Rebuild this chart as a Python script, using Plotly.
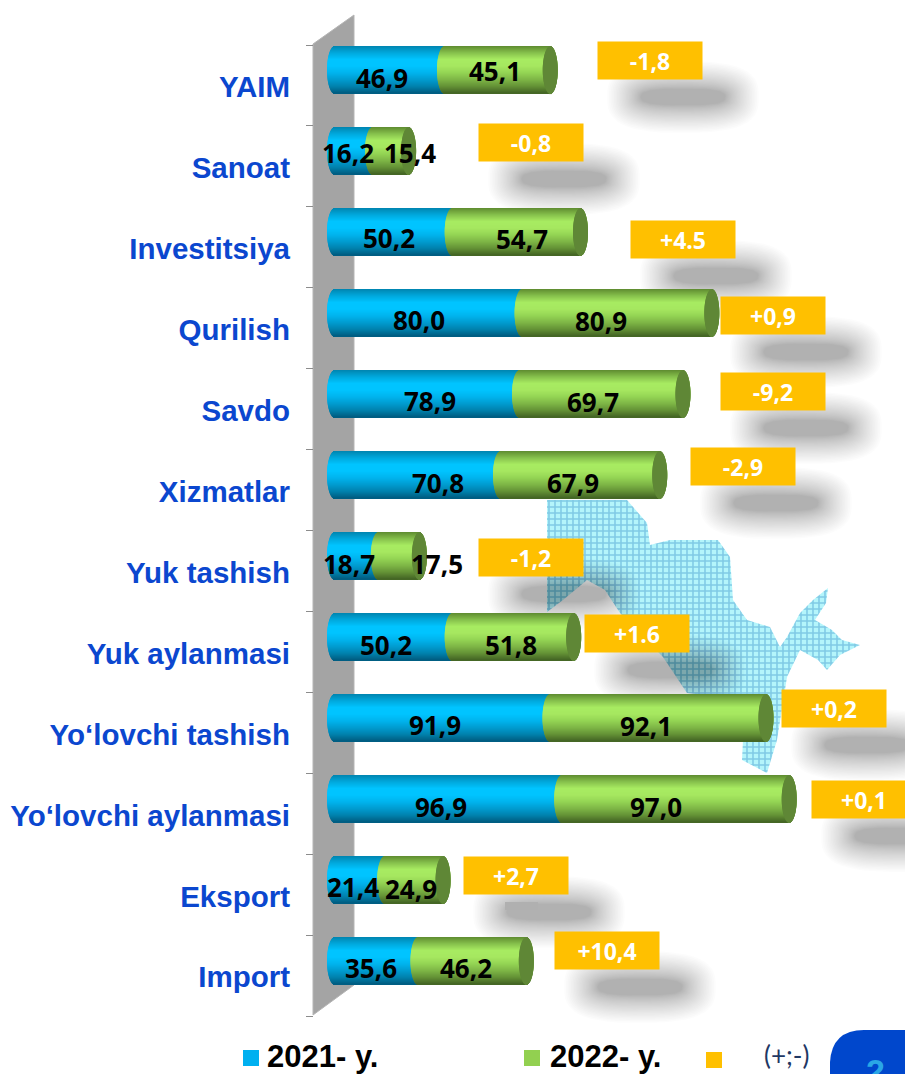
import numpy as np
import plotly.graph_objects as go

categories = ["YAIM", "Sanoat", "Investitsiya", "Qurilish", "Savdo", "Xizmatlar", "Yuk tashish",
              "Yuk aylanmasi", "Yo‘lovchi tashish", "Yo‘lovchi aylanmasi", "Eksport", "Import"]
values_2021 = [46.9, 16.2, 50.2, 80.0, 78.9, 70.8, 18.7, 50.2, 91.9, 96.9, 21.4, 35.6]
values_2022 = [45.1, 15.4, 54.7, 80.9, 69.7, 67.9, 17.5, 51.8, 92.1, 97.0, 24.9, 46.2]
change_labels = ["-1,8", "-0,8", "+4.5", "+0,9", "-9,2", "-2,9", "-1,2", "+1.6", "+0,2", "+0,1", "+2,7", "+10,4"]

# Label placement (pixels), kept apart from the data
label_2021_xy = [(382, 78), (348, 153), (389, 238), (419, 320), (430, 401), (438, 483),
                 (349, 564), (386, 645), (435, 725), (441, 807), (353, 887), (371, 968)]
label_2022_xy = [(495, 71), (410, 153), (522, 239), (601, 321), (593, 402), (573, 483),
                 (437, 564), (511, 645), (646, 726), (656, 807), (411, 889), (466, 968)]
change_box_xy = [(598, 42), (479, 124), (631, 221), (721, 297), (721, 373), (691, 448),
                 (479, 539), (585, 615), (782, 690), (812, 781), (464, 857), (555, 932)]
map_outline = [(547, 500), (627, 500), (647, 523), (650, 545), (670, 540), (718, 540), (730, 557), (733, 600),
               (747, 620), (770, 627), (780, 647), (787, 637), (800, 613), (813, 600), (828, 588), (826, 603),
               (815, 620), (832, 630), (842, 640), (860, 645), (840, 655), (827, 670), (818, 660), (800, 650),
               (787, 677), (777, 740), (767, 773), (742, 760), (745, 700), (687, 693), (663, 657), (620, 613),
               (605, 590), (587, 580), (563, 600), (547, 612)]

W, H = 905, 1074
BLUE_RAMP = ["#0085b0", "#00a8dc", "#00c4ff", "#00c4ff", "#00b4ee", "#009cd0", "#0082ae", "#005c80"]
GREEN_RAMP = ["#5f8c30", "#86c04c", "#a8ec62", "#a6e860", "#94d454", "#7eb646", "#649236", "#436424"]
CAP = "#5f8736"
FONT_VALUE = "Open Sans"
FONT_LABEL = "Liberation Sans"


def hex2rgb(c):
    return np.array([int(c[i:i + 2], 16) for i in (1, 3, 5)], float)


def ramp(colors, f):
    p = f * (len(colors) - 1)
    i = min(int(p), len(colors) - 2)
    c = hex2rgb(colors[i]) * (1 - (p - i)) + hex2rgb(colors[i + 1]) * (p - i)
    return "rgb(%d,%d,%d)" % tuple(c)


# data axes mapping
x0_px, px_per_unit = 334.5, 2.345
y0_px, px_per_cat = 70.5, 80.95
bar_h = 47
rx = 7.5 / px_per_unit
N = bar_h

ys, b_base, b_w, b_col, g_base, g_w, g_col, c_base, c_w = [], [], [], [], [], [], [], [], []
for idx, (a, b) in enumerate(zip(values_2021, values_2022)):
    for k in range(N):
        f = (k + 0.5) / N
        t = 2 * f - 1
        s = np.sqrt(1 - t * t)
        ys.append(idx + t * bar_h / 2 / px_per_cat)
        b_base.append(-rx * s)
        b_w.append(a + 2 * rx * s)
        b_col.append(ramp(BLUE_RAMP, f))
        g_base.append(a - rx * s)
        g_w.append(b + 2 * rx * s)
        g_col.append(ramp(GREEN_RAMP, f))
        c_base.append(a + b - rx * s)
        c_w.append(2 * rx * s)

fig = go.Figure()

# --- decoration on the pixel axes ---
mx, my = zip(*(map_outline + map_outline[:1]))
fig.add_trace(go.Scatter(x=mx, y=my, mode="lines", line=dict(width=0), fill="toself", hoverinfo="skip",
                         fillcolor="#c8f7fb", showlegend=False,
                         fillpattern=dict(shape="+", size=6, solidity=0.45, fgcolor="#4c9fd0", bgcolor="#b4f5fb"),
                         xaxis="x", yaxis="y"))

# soft shadows beneath the change boxes
theta = np.linspace(0, 2 * np.pi, 48)
LAYERS = 26
for layer in range(LAYERS):
    grow = (1 - layer / LAYERS) ** 1.3
    sx, sy = [], []
    for (bx, by) in change_box_xy:
        cx, cy = bx + 52 + 33, by + 18 + 37
        ax, ay = 42 + 34 * grow, 8 + 28 * grow
        # superellipse gives the flattened look of a blurred rectangle
        sx += list(cx + ax * np.sign(np.cos(theta)) * np.abs(np.cos(theta)) ** 0.7) + [None]
        sy += list(cy + ay * np.sign(np.sin(theta)) * np.abs(np.sin(theta)) ** 0.7) + [None]
    fig.add_trace(go.Scatter(x=sx, y=sy, mode="lines", line=dict(width=0), fill="toself", hoverinfo="skip",
                             fillcolor="rgba(0,0,0,0.0125)", showlegend=False, xaxis="x", yaxis="y"))

# grey wall
fig.add_trace(go.Scatter(x=[313, 354, 354, 313, 313], y=[44, 15, 985, 1015, 44], mode="lines",
                         line=dict(width=1, color="#b5b5b5"), fill="toself", fillcolor="#a4a4a4",
                         hoverinfo="skip", showlegend=False, xaxis="x", yaxis="y"))
# small grey dash near Eksport
fig.add_trace(go.Scatter(x=[505, 538, 538, 505, 505], y=[902, 902, 910, 910, 902], mode="lines",
                         line=dict(width=0), fill="toself", fillcolor="#b0b0b0",
                         hoverinfo="skip", showlegend=False, xaxis="x", yaxis="y"))

# --- cylinders on the data axes ---
for base, w, col, name in [(b_base, b_w, b_col, "2021- y."), (g_base, g_w, g_col, "2022- y."),
                           (c_base, c_w, CAP, "cap")]:
    fig.add_trace(go.Bar(orientation="h", y=ys, x=w, base=base, width=1.15 / px_per_cat,
                         marker=dict(color=col, line=dict(width=0)), name=name, showlegend=False,
                         hoverinfo="skip", xaxis="x2", yaxis="y2"))

ann = []
def label(x, y, text, size, color="#000000", family=FONT_VALUE, anchor="center", yanchor="middle", **kw):
    ann.append(dict(x=x, y=y, xref="x", yref="y", text=text, showarrow=False, xanchor=anchor, yanchor=yanchor,
                    font=dict(family=family, size=size, color=color), **kw))

for v, xy in zip(values_2021, label_2021_xy):
    label(xy[0], xy[1], "<b>%s</b>" % f"{v:.1f}".replace(".", ","), 26)
for v, xy in zip(values_2022, label_2022_xy):
    label(xy[0], xy[1], "<b>%s</b>" % f"{v:.1f}".replace(".", ","), 26)
for text, (bx, by) in zip(change_labels, change_box_xy):
    label(bx + 52, by + 18.5, "<b>%s</b>" % text, 23, color="#ffffff", width=104, height=37,
          bgcolor="#ffc000", borderpad=0, align="center", valign="middle")

# legend row
shapes = []
for (lx, ly, sz, col) in [(243, 1050, 16, "#00b0f0"), (524, 1050, 16, "#92d050"), (706, 1052, 16, "#ffc000")]:
    shapes.append(dict(type="rect", xref="x", yref="y", x0=lx, x1=lx + sz, y0=ly, y1=ly + sz,
                       fillcolor=col, line=dict(width=0), layer="above"))
label(265, 1056, "<b>2021- y.</b>", 31, family=FONT_LABEL, anchor="left")
label(548, 1056, "<b>2022- y.</b>", 31, family=FONT_LABEL, anchor="left")
label(786, 1055, "(+;-)", 26, color="#1f3864", family="Lato")

# page-number tab
shapes.append(dict(type="path", xref="x", yref="y", layer="above", fillcolor="#0047cc", line=dict(width=0),
                   path="M 830,1074 L 830,1062 Q 832,1030 864,1030 L 905,1030 L 905,1074 Z"))
label(875, 1050, "<b>2</b>", 34, color="#2aa6e6", family=FONT_LABEL, yanchor="top")

fig.update_layout(
    width=W, height=H, margin=dict(l=0, r=0, t=0, b=0), autosize=False,
    paper_bgcolor="#ffffff", plot_bgcolor="#ffffff", barmode="overlay", showlegend=False,
    shapes=shapes, annotations=ann,
    xaxis=dict(range=[0, W], visible=False, domain=[0, 1], fixedrange=True),
    yaxis=dict(range=[H, 0], visible=False, domain=[0, 1], fixedrange=True),
    xaxis2=dict(range=[-x0_px / px_per_unit, (W - x0_px) / px_per_unit], visible=False, overlaying="x",
                anchor="y2", domain=[0, 1]),
    yaxis2=dict(range=[(H - y0_px) / px_per_cat, -y0_px / px_per_cat], overlaying="y", anchor="free",
                position=313 / W, side="left", showgrid=False, zeroline=False, showline=False,
                tickmode="array", tickvals=[i + 0.2 for i in range(len(categories))], ticktext=categories,
                ticks="", ticklabelstandoff=23,
                tickfont=dict(family=FONT_LABEL, size=29.5, color="#0b47cf", weight="bold"),
                minor=dict(tickmode="array", tickvals=[i - 0.315 for i in range(len(categories) + 1)],
                           ticks="outside", ticklen=7, tickcolor="#8c8c8c", tickwidth=1, showgrid=False)),
)

fig.write_html("out.html", config={"displayModeBar": False},
               post_script="document.body.style.margin='0';document.documentElement.style.overflow='hidden';")
